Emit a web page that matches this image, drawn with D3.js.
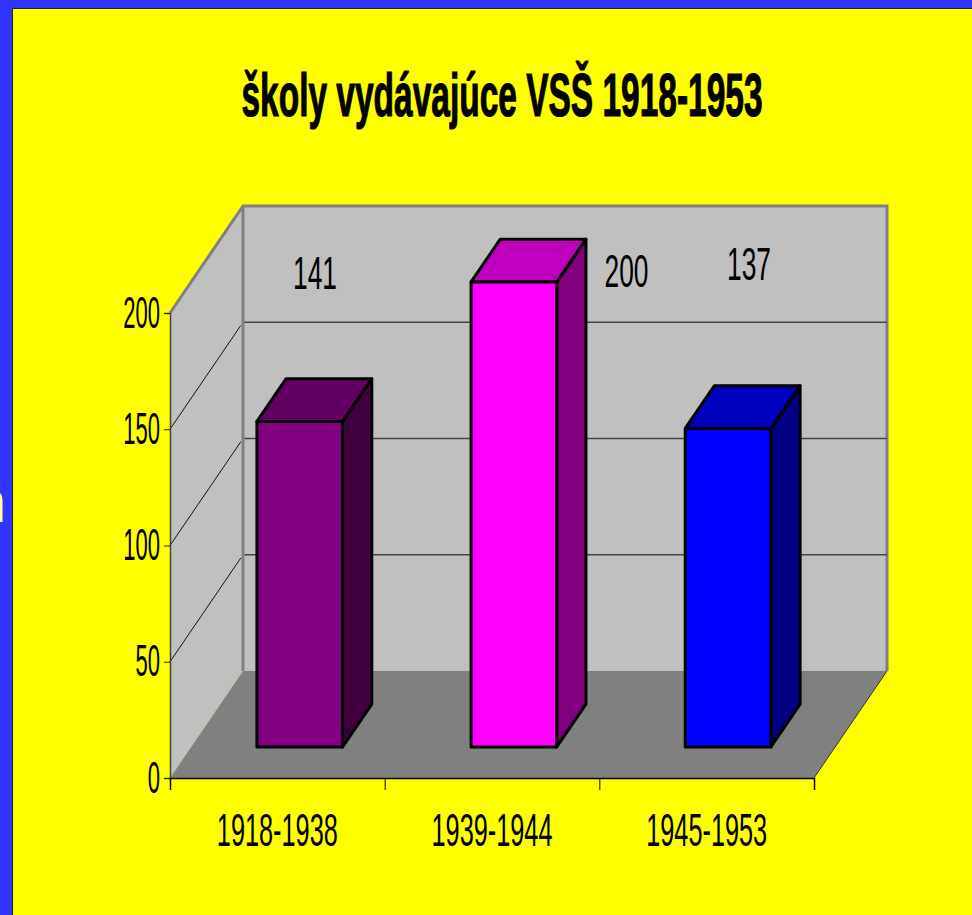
<!DOCTYPE html>
<html>
<head>
<meta charset="utf-8">
<script src="https://cdn.jsdelivr.net/npm/d3@7"></script>
<style>
    html, body { margin: 0; padding: 0; background: #3333ff; overflow: hidden; }
    svg { display: block; }
    text { font-family: "Liberation Sans", Arial, sans-serif; fill: #000; }
</style>
</head>
<body>
<script>
"use strict";

const categories = ["1918-1938", "1939-1944", "1945-1953"];
// the first label says 141 but its bar is drawn to about 140
const barValues = [140, 200, 137];
const labelValues = [141, 200, 137];
const yTicks = [0, 50, 100, 150, 200];
const titleText = "školy vydávajúce VSŠ 1918-1953";

const frontFills = ["#800080", "#ff00ff", "#0000ff"];
const topFills = ["#600060", "#bf00bf", "#0000bf"];
const sideFills = ["#400040", "#800080", "#000080"];

const WIDTH = 972, HEIGHT = 915;
const DEPTH_X = 73, DEPTH_Y = 107;
const BAR_NEAR = 0.29, BAR_FAR = 0.69;
// the data labels were moved by hand in the original, so they sit off the bars
const LABEL_X = [315, 626.5, 749], LABEL_Y = [289, 287, 280];

const svg = d3.select("body").append("svg").attr("width", WIDTH).attr("height", HEIGHT);

svg.append("rect").attr("width", WIDTH).attr("height", HEIGHT).attr("fill", "#3333ff");
svg.append("text").attr("x", -27).attr("y", 522).attr("font-size", 60)
    .style("fill", "#ffff99").text("n");
svg.append("rect").attr("x", 12.5).attr("y", 8.5).attr("width", WIDTH).attr("height", HEIGHT)
    .attr("fill", "#ffff00").attr("stroke", "#222").attr("stroke-width", 1);

const x = d3.scaleBand().domain(categories).range([170, 814]);
const xBars = d3.scaleBand().domain(categories).range([171.5, 814]);
const xEdges = d3.scaleLinear().domain([0, categories.length]).range([170, 814]);
const y = d3.scaleLinear().domain([0, 200]).range([778, 313]);

// z goes from 0 at the front of the floor to 1 at the back wall
function project(px, py, z) {
    return [px + z * DEPTH_X, py - z * DEPTH_Y];
}
const poly = d3.line();
function face(points, fill, stroke, sw) {
    return svg.append("path")
        .attr("d", poly(points) + "Z")
        .attr("fill", fill)
        .attr("stroke", stroke)
        .attr("stroke-width", sw)
        .attr("stroke-linejoin", "round");
}

const x0 = x.range()[0], x1 = x.range()[1], yBase = y(0), yTop = y(200);

// walls and floor
face([project(x0, yTop, 1), project(x1, yTop, 1), project(x1, yBase, 1), project(x0, yBase, 1)], "#c0c0c0", "none", 0);
face([project(x0, yTop, 0), project(x0, yTop, 1), project(x0, yBase, 1), project(x0, yBase, 0)], "#c0c0c0", "none", 0);

// wall edges
const edge = d3.line();
svg.append("path")
    .attr("d", edge([project(x0, yTop, 0), project(x0, yTop, 1), project(x1, yTop, 1), project(x1, yBase, 1)]))
    .attr("fill", "none").attr("stroke", "#808080").attr("stroke-width", 3);
svg.append("path")
    .attr("d", edge([project(x0, yTop, 1), project(x0, yBase, 1)]))
    .attr("fill", "none").attr("stroke", "#808080").attr("stroke-width", 3);

face([project(x0, yBase, 0), project(x1, yBase, 0), project(x1, yBase, 1), project(x0, yBase, 1)], "#808080", "none", 0);

// gridlines, stop short of the back corner like the original
yTicks.filter(function (t) { return t > 0 && t < 200; }).forEach(function (t) {
    svg.append("path")
        .attr("d", edge([project(x0, y(t), 0), project(x0, y(t), 0.97)]))
        .attr("fill", "none").attr("stroke", "#111").attr("stroke-width", 1);
    svg.append("path")
        .attr("d", edge([[project(x0, y(t), 1)[0] + 1.5, project(x0, y(t), 1)[1]], project(x1, y(t), 1)]))
        .attr("fill", "none").attr("stroke", "#444").attr("stroke-width", 1.5);
});
svg.append("path")
    .attr("d", edge([project(x1, yBase, 0), project(x1, yBase, 1)]))
    .attr("fill", "none").attr("stroke", "#333").attr("stroke-width", 1);

// axes
const yAxis = svg.append("g")
    .attr("transform", "translate(" + x0 + ",0)")
    .call(d3.axisLeft(y).tickValues(yTicks).tickSize(6));
yAxis.select(".domain").attr("stroke", "#444").attr("stroke-width", 1.5);
yAxis.selectAll("line").attr("stroke", "#222");
yAxis.selectAll("text")
    .attr("font-size", 44)
    .attr("x", 0).attr("dy", 0)
    .attr("transform", "translate(-10,14) scale(0.5,1)");

const xTicks = svg.append("g")
    .attr("transform", "translate(0," + yBase + ")")
    .call(d3.axisBottom(xEdges).ticks(categories.length).tickSize(12).tickFormat(""));
xTicks.select(".domain").attr("stroke", "#000").attr("stroke-width", 1.5);
xTicks.selectAll("line").attr("stroke", "#000");

const xLabels = svg.append("g")
    .attr("transform", "translate(0," + yBase + ")")
    .call(d3.axisBottom(x).tickSize(0));
xLabels.select(".domain").remove();
xLabels.selectAll("text")
    .attr("font-size", 46)
    .attr("y", 0).attr("dy", 0)
    .attr("transform", "translate(0,68) scale(0.55,1)");

// bars
const barW = xBars.bandwidth() * 0.4;
categories.forEach(function (c, i) {
    const left = xBars(c) + (xBars.bandwidth() - barW) / 2;
    const right = left + barW;
    const top = y(barValues[i]);
    const a = project(left, top, BAR_NEAR), b = project(right, top, BAR_NEAR);
    const d = project(right, yBase, BAR_NEAR), e = project(left, yBase, BAR_NEAR);
    const f = project(left, top, BAR_FAR), g = project(right, top, BAR_FAR);
    const h = project(right, yBase, BAR_FAR);
    face([b, g, h, d], sideFills[i], "#000", 3);
    face([a, f, g, b], topFills[i], "#000", 3);
    face([a, b, d, e], frontFills[i], "#000", 3);
});

// value labels
labelValues.forEach(function (v, i) {
    svg.append("text")
        .attr("text-anchor", "middle")
        .attr("font-size", 47)
        .attr("transform", "translate(" + LABEL_X[i] + "," + LABEL_Y[i] + ") scale(0.56,1)")
        .text(v);
});

svg.append("text")
    .attr("text-anchor", "middle")
    .attr("font-size", 62)
    .attr("font-weight", "bold")
    .attr("stroke", "#000")
    .attr("stroke-width", 1.2)
    .attr("transform", "translate(502,116) scale(0.54,1)")
    .text(titleText);
</script>
</body>
</html>
